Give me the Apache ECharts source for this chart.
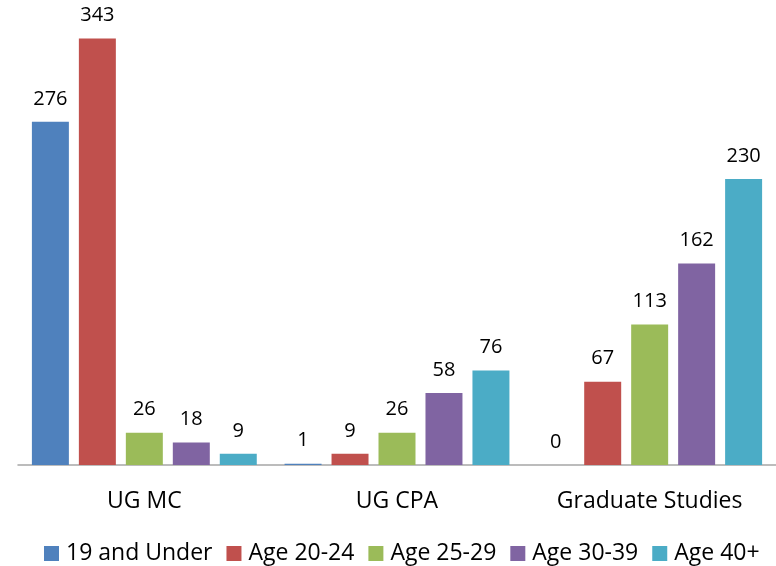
<!DOCTYPE html>
<html><head><meta charset="utf-8">
<script src="https://cdn.jsdelivr.net/npm/echarts@6/dist/echarts.min.js"></script>
<style>html,body{margin:0;padding:0;background:#fff}#c{width:776px;height:566px}</style>
</head><body><div id="c"></div>
<script>
const categories = ["UG MC", "UG CPA", "Graduate Studies"];
const seriesNames = ["19 and Under", "Age 20-24", "Age 25-29", "Age 30-39", "Age 40+"];
const under19 = [276, 1, 0];
const age20_24 = [343, 9, 67];
const age25_29 = [26, 26, 113];
const age30_39 = [18, 58, 162];
const age40plus = [9, 76, 230];
const colors = ["#4F81BD", "#C0504D", "#9BBB59", "#8064A2", "#4BACC6"];
const values = [under19, age20_24, age25_29, age30_39, age40plus];
const FONT = "Open Sans";
const chart = echarts.init(document.getElementById('c'));
chart.setOption({
  animation: false,
  color: colors,
  textStyle: {fontFamily: FONT},
  grid: {left: 18, right: -4, top: 0, bottom: 101, containLabel: false},
  legend: {
    bottom: 1, left: 44, padding: 0,
    itemWidth: 15, itemHeight: 15, itemGap: 14,
    icon: 'rect',
    textStyle: {fontFamily: FONT, fontSize: 23, color: '#000', padding: [0,0,0,2]},
    data: seriesNames
  },
  xAxis: {
    type: 'category', data: categories,
    axisLine: {lineStyle: {color: '#A6A6A6', width: 1.5}},
    axisTick: {show: false},
    axisLabel: {fontFamily: FONT, fontSize: 23, color: '#000', margin: 25}
  },
  yAxis: {type: 'value', min: 0, max: 374, show: false, splitLine: {show: false}},
  series: seriesNames.map((n, i) => ({
    name: n, type: 'bar', data: values[i],
    barGap: '27%', barCategoryGap: '11%',
    itemStyle: {color: colors[i]},
    label: {show: true, position: 'top', distance: 13, fontFamily: FONT, fontSize: 20, color: '#000'}
  }))
});
</script></body></html>
